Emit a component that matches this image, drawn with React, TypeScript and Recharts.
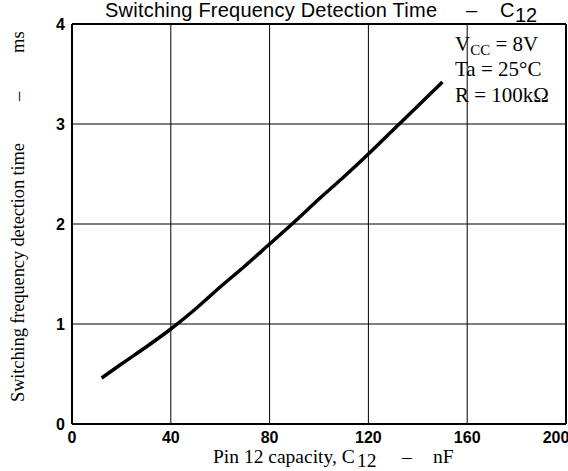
import React from "react";
import {
  LineChart,
  Line,
  XAxis,
  YAxis,
  CartesianGrid,
  ReferenceLine,
  Label,
  Customized,
} from "recharts";

const capacityNF = [12, 20, 30, 40, 50, 60, 70, 80, 90, 100, 110, 120, 130, 140, 150];
const detectionMs = [0.46, 0.6, 0.77, 0.95, 1.15, 1.37, 1.58, 1.8, 2.02, 2.25, 2.47, 2.7, 2.94, 3.18, 3.42];
const xTicks = [0, 40, 80, 120, 160, 200];
const yTicks = [0, 1, 2, 3, 4];

const data = capacityNF.map((c, i) => ({ c, t: detectionMs[i] }));

const tickStyle = {
  fontFamily: "'Liberation Sans', Arial, sans-serif",
  fontWeight: 700,
  fontSize: 16,
  fill: "#000",
};

const serif = "'Liberation Serif', 'Times New Roman', serif";
const sans = "'Liberation Sans', Arial, sans-serif";

const Overlay = () => (
  <g fill="#000">
    <text x={105} y={17} fontFamily={sans} fontSize={20} textLength={332}>
      Switching Frequency Detection Time
    </text>
    <text x={466} y={17} fontFamily={sans} fontSize={20}>
      {"\u2013"}
    </text>
    <text x={500} y={17} fontFamily={sans} fontSize={20}>
      C
    </text>
    <text x={515} y={22} fontFamily={sans} fontSize={20}>
      12
    </text>
    <text x={455} y={51} fontFamily={serif} fontSize={21}>
      V<tspan fontSize={15} dy={4}>CC</tspan>
      <tspan dy={-4}>{"\u00a0=\u00a08V"}</tspan>
    </text>
    <text x={455} y={76} fontFamily={serif} fontSize={21}>
      {"Ta\u00a0=\u00a025°C"}
    </text>
    <text x={455} y={102} fontFamily={serif} fontSize={21}>
      {"R\u00a0=\u00a0100kΩ"}
    </text>
  </g>
);

export default function App() {
  return (
    <div style={{ position: "absolute", left: 0, top: 0, background: "#fff" }}>
      <LineChart
        width={568}
        height={471}
        data={data}
        margin={{ top: 24, right: 2, bottom: 0, left: 0 }}
      >
        <CartesianGrid stroke="#000" strokeWidth={1} />
        <XAxis
          dataKey="c"
          type="number"
          domain={[0, 200]}
          ticks={xTicks}
          height={47}
          tickSize={0}
          tickMargin={8}
          tick={tickStyle}
          axisLine={{ stroke: "#000", strokeWidth: 2 }}
          allowDataOverflow
        >
          <Label
            content={() => (
              <g fill="#000" fontFamily={serif} fontSize={19.5}>
                <text x={213} y={463}>Pin 12 capacity, C</text>
                <text x={357} y={467}>12</text>
                <text x={402} y={463}>{"\u2013"}</text>
                <text x={433} y={463}>nF</text>
              </g>
            )}
          />
        </XAxis>
        <YAxis
          type="number"
          domain={[0, 4]}
          ticks={yTicks}
          width={72}
          tickSize={0}
          tickMargin={7}
          tick={tickStyle}
          axisLine={{ stroke: "#000", strokeWidth: 2 }}
        >
          <Label
            content={() => (
              <g fill="#000" fontFamily={serif} fontSize={18.5}>
                <text transform="translate(24,402) rotate(-90)" textLength={259}>
                  Switching frequency detection time
                </text>
                <text transform="translate(24,101) rotate(-90)">{"\u2013"}</text>
                <text transform="translate(24,53) rotate(-90)">ms</text>
              </g>
            )}
          />
        </YAxis>
        <ReferenceLine y={4} stroke="#000" strokeWidth={2} />
        <ReferenceLine x={200} stroke="#000" strokeWidth={2} />
        <Line
          dataKey="t"
          type="monotone"
          stroke="#000"
          strokeWidth={3.5}
          dot={false}
          isAnimationActive={false}
        />
        <Customized component={Overlay} />
      </LineChart>
    </div>
  );
}
